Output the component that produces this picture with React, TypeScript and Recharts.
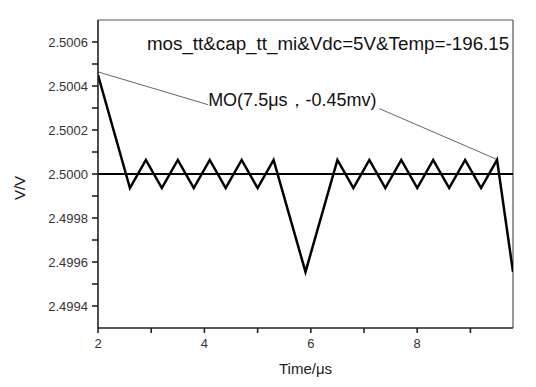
import { Line, LineChart, ReferenceDot, ReferenceLine, XAxis, YAxis } from "recharts";

const timeUs = [
  2, 2.6, 2.9, 3.2, 3.5, 3.8, 4.1, 4.4, 4.7, 5.0, 5.3, 5.9, 6.5, 6.8, 7.1, 7.4, 7.7, 8.0, 8.3, 8.6,
  8.9, 9.2, 9.5, 9.8,
];
const voltage = [
  2.50045, 2.499936, 2.500064, 2.499936, 2.500064, 2.499936, 2.500064, 2.499936, 2.500064,
  2.499936, 2.500064, 2.499555, 2.500064, 2.499936, 2.500064, 2.499936, 2.500064, 2.499936,
  2.500064, 2.499936, 2.500064, 2.499936, 2.500064, 2.499555,
];
const xTicks = [2, 3, 4, 5, 6, 7, 8, 9];
const yTicks = [
  2.4994, 2.4995, 2.4996, 2.4997, 2.4998, 2.4999, 2.5, 2.5001, 2.5002, 2.5003, 2.5004, 2.5005,
  2.5006,
];
const titleNote = "mos_tt&cap_tt_mi&Vdc=5V&Temp=-196.15";
const markerNote = "MO(7.5μs，-0.45mv)";

const data = timeUs.map((t, i) => ({ t, v: voltage[i] }));

const FONT = "'Liberation Sans', Arial, sans-serif";

const noteLabel = (text: string, size: number) => (props: any) => {
  const vb = props.viewBox || {};
  return (
    <text x={vb.x} y={vb.y} fontSize={size} fontFamily={FONT} fill="#111">
      {text}
    </text>
  );
};

export default function App() {
  return (
    <div style={{ position: "absolute", left: 0, top: 0, background: "#fff" }}>
      <LineChart
        width={536}
        height={387}
        data={data}
        margin={{ top: 20, right: 23, left: 0, bottom: 0 }}
      >
        <XAxis
          dataKey="t"
          type="number"
          domain={[2, 9.8]}
          allowDataOverflow
          ticks={xTicks}
          interval={0}
          height={59}
          tickSize={5}
          tickMargin={6}
          stroke="#222"
          strokeWidth={1.6}
          tick={{ fontSize: 13, fontFamily: FONT, fill: "#333" }}
          tickFormatter={(v: number) => (v % 2 === 0 ? String(v) : "")}
          label={{
            content: (p: any) => (
              <text
                x={p.viewBox.x + p.viewBox.width / 2}
                y={p.viewBox.y + 46}
                textAnchor="middle"
                fontSize={15}
                fontFamily={FONT}
                fill="#222"
              >
                Time/μs
              </text>
            ),
          }}
        />
        <YAxis
          type="number"
          domain={[2.4993, 2.5007]}
          allowDataOverflow
          ticks={yTicks}
          interval={0}
          width={98}
          tickSize={6}
          tickMargin={4}
          stroke="#222"
          strokeWidth={1.6}
          tick={{ fontSize: 13, fontFamily: FONT, fill: "#333" }}
          tickFormatter={(v: number) =>
            Math.round(v * 10000) % 2 === 0 ? v.toFixed(4) : ""
          }
          label={{
            content: (p: any) => {
              const cx = p.viewBox.x + 19;
              const cy = p.viewBox.y + p.viewBox.height / 2 + 14;
              return (
                <text
                  x={cx}
                  y={cy}
                  transform={`rotate(-90 ${cx} ${cy})`}
                  textAnchor="middle"
                  dominantBaseline="central"
                  fontSize={15}
                  fontFamily={FONT}
                  fill="#222"
                >
                  V/V
                </text>
              );
            },
          }}
        />
        <ReferenceLine y={2.5007} stroke="#555" strokeWidth={1.2} />
        <ReferenceLine x={9.8} stroke="#555" strokeWidth={1.2} />
        <ReferenceLine y={2.5} stroke="#000" strokeWidth={2} />
        <ReferenceLine
          segment={[
            { x: 2, y: 2.500464 },
            { x: 4.07, y: 2.500315 },
          ]}
          stroke="#666"
          strokeWidth={1}
        />
        <ReferenceLine
          segment={[
            { x: 7.29, y: 2.500297 },
            { x: 9.49, y: 2.500067 },
          ]}
          stroke="#666"
          strokeWidth={1}
        />
        <Line
          type="linear"
          dataKey="v"
          stroke="#000"
          strokeWidth={2.5}
          dot={false}
          activeDot={false}
          isAnimationActive={false}
        />
        <ReferenceDot
          x={2.92}
          y={2.500564}
          r={0}
          fill="none"
          stroke="none"
          label={{ content: noteLabel(titleNote, 18.8) }}
        />
        <ReferenceDot
          x={4.07}
          y={2.500311}
          r={0}
          fill="none"
          stroke="none"
          label={{ content: noteLabel(markerNote, 18) }}
        />
      </LineChart>
    </div>
  );
}
